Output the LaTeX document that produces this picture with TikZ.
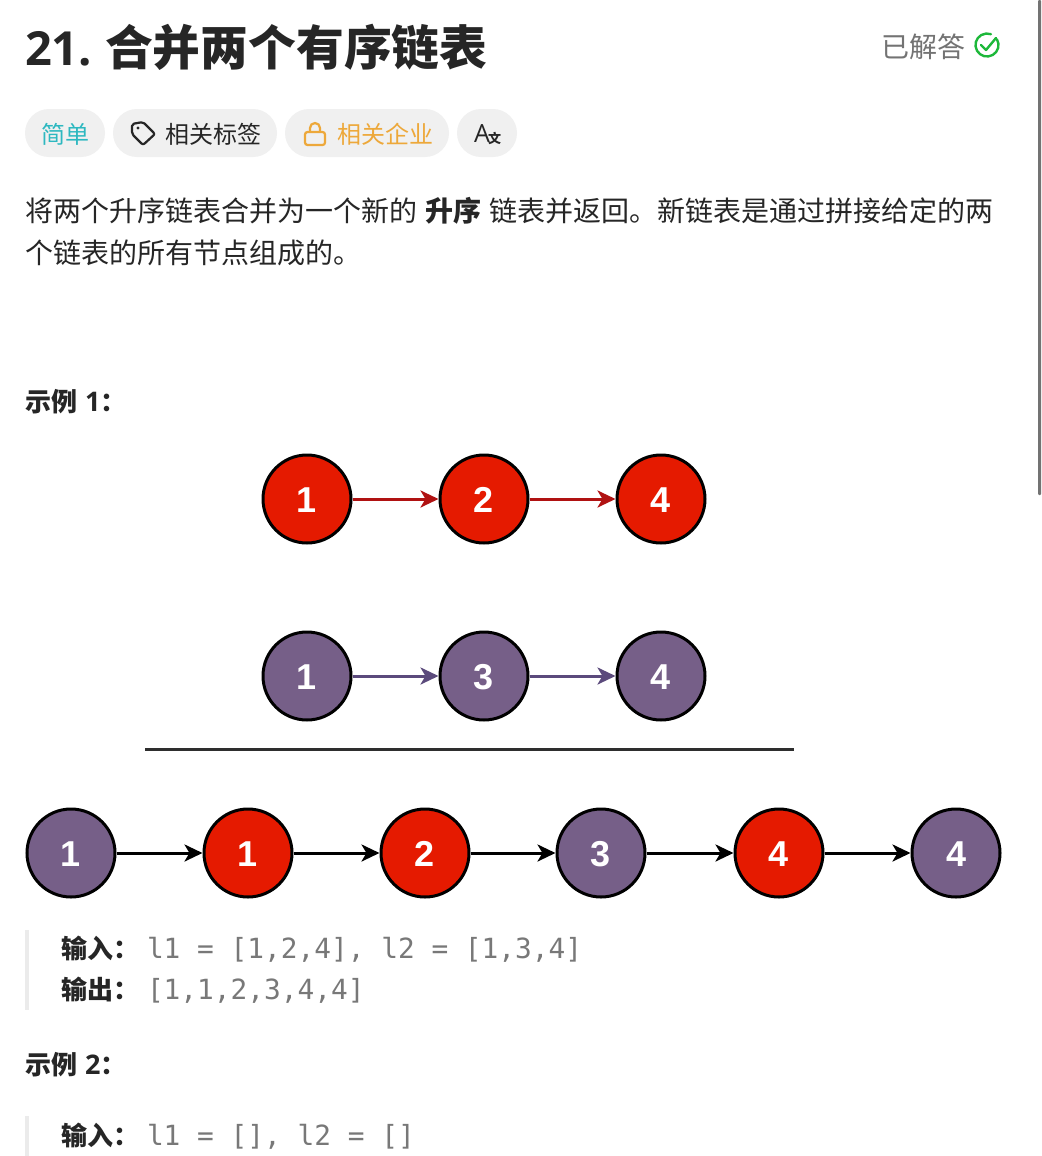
\documentclass[tikz,border=0pt]{standalone}
\usepackage{fontspec}
\setmainfont{Noto Sans CJK SC}
\newfontfamily\numfont{Liberation Sans}
\newfontfamily\codefont{DejaVu Sans Mono}
\newfontfamily\latfont{Open Sans}
\usetikzlibrary{arrows.meta}
\definecolor{ink}{HTML}{262626}
\definecolor{nodered}{HTML}{E51A00}
\definecolor{nodepurple}{HTML}{765F88}
\definecolor{linered}{HTML}{B01212}
\definecolor{linepurple}{HTML}{5B4A7C}
\definecolor{chipbg}{HTML}{F0F0F0}
\definecolor{teal}{HTML}{2DB8C0}
\definecolor{amber}{HTML}{EDA83A}
\definecolor{donegreen}{HTML}{1DB83A}
\definecolor{codegrey}{HTML}{787878}
\definecolor{quotebar}{HTML}{EBEBEB}
\newcommand{\fs}[1]{\fontsize{#1}{#1}\selectfont}
\tikzset{
  txt/.style={anchor=base west,inner sep=0pt,outer sep=0pt,text=ink,font=\fs{28}},
  codetxt/.style={anchor=base west,inner sep=0pt,outer sep=0pt,text=codegrey,font=\codefont\fs{27.8}},
  listnode/.style={circle,draw=black,line width=3pt,minimum size=88pt,inner sep=0pt,text=white,text height=27pt,text depth=0pt,font=\numfont\bfseries\fs{36}},
  rednode/.style={listnode,fill=nodered},
  purplenode/.style={listnode,fill=nodepurple},
  link/.style={line width=3pt,-{Stealth[length=18pt,width=17pt,inset=5pt]}},
  chip/.style={anchor=west,fill=chipbg,rounded corners=24pt,minimum height=48pt,inner sep=0pt,outer sep=0pt},
  bar/.style={fill=quotebar,draw=none}
}
\begin{document}
\begin{tikzpicture}[x=1pt,y=-1pt]
\path[use as bounding box,fill=white] (0,0) rectangle (1041,1156);
% scrollbar
\fill[black!55,rounded corners=1pt] (1038,0) rectangle (1041,495);
% heading
\node[txt,font=\latfont\bfseries\fs{47}] (num) at (25,66) {21.};
\node[txt,font=\bfseries\fs{47.8}] (title) at (105,66) {合并两个有序链表};
\node[txt,text=black!55,font=\fs{28}] (solved) at (881,57) {已解答};
\coordinate (chk) at (987,45);
\draw[donegreen,line width=2.4pt,line cap=round] (chk)++(-30:11.5) arc[start angle=-30,end angle=290,radius=11.5];
\draw[donegreen,line width=2.4pt,line cap=round,line join=round] (981,45) -- (986,50) -- (996,38);
% chips
\node[chip,minimum width=80pt] (easy) at (25,133) {};
\node[txt,text=teal,font=\fs{24}] (easyt) at (41,143) {简单};
\node[chip,minimum width=164pt] (tags) at (113,133) {};
\node[txt,font=\fs{24}] (tagst) at (165,143) {相关标签};
\draw[ink,line width=2.2pt,line join=round,rounded corners=2pt] (132,124) -- (143,122) -- (155,134) -- (143,145) -- (132,134) -- cycle;
\fill[ink] (138,128) circle[radius=1.6];
\node[chip,minimum width=164pt] (comp) at (285,133) {};
\node[txt,text=amber,font=\fs{24}] (compt) at (337,143) {相关企业};
\draw[amber,line width=2.2pt,rounded corners=2.5pt] (305,132) rectangle (325,145);
\draw[amber,line width=2.2pt] (310,132) -- (310,128) arc[start angle=180,end angle=360,radius=5] -- (320,132);
\node[chip,minimum width=60pt] (lang) at (457,133) {};
\node[txt,font=\latfont\fs{25}] (langa) at (474,142) {A};
\node[txt,font=\bfseries\fs{13}] (langb) at (488,143) {文};
% paragraph
\node[txt] (p1a) at (25,221) {将两个升序链表合并为一个新的};
\node[txt,font=\bfseries\fs{28}] (p1b) at (425,221) {升序};
\node[txt] (p1c) at (489,221) {链表并返回。新链表是通过拼接给定的两};
\node[txt] (p2) at (25,263) {个链表的所有节点组成的。};
% example 1
\node[txt,font=\bfseries\fs{26}] (ex1) at (25,411) {示例\hspace{8pt}{\latfont\bfseries\fs{27}1}：};
% list 1
\node[rednode] (a1) at (307,499) {1};
\node[rednode] (a2) at (484,499) {2};
\node[rednode] (a3) at (661,499) {4};
\draw[link,linered] (a1) -- (a2);
\draw[link,linered] (a2) -- (a3);
% list 2
\node[purplenode] (b1) at (307,676) {1};
\node[purplenode] (b2) at (484,676) {3};
\node[purplenode] (b3) at (661,676) {4};
\draw[link,linepurple] (b1) -- (b2);
\draw[link,linepurple] (b2) -- (b3);
% rule
\coordinate (ruleL) at (145,749);
\coordinate (ruleR) at (794,749);
\draw[line width=3pt,black!82] (ruleL) -- (ruleR);
% merged
\node[purplenode] (c1) at (71,853) {1};
\node[rednode] (c2) at (248,853) {1};
\node[rednode] (c3) at (425,853) {2};
\node[purplenode] (c4) at (601,853) {3};
\node[rednode] (c5) at (779,853) {4};
\node[purplenode] (c6) at (956,853) {4};
\draw[link,black] (c1) -- (c2);
\draw[link,black] (c2) -- (c3);
\draw[link,black] (c3) -- (c4);
\draw[link,black] (c4) -- (c5);
\draw[link,black] (c5) -- (c6);
% quote 1
\fill[bar] (25,930) rectangle (29,1010);
\node[txt,font=\bfseries\fs{26}] (in1) at (61,958) {输入：};
\node[codetxt] (in1v) at (147,958) {l1 = [1,2,4], l2 = [1,3,4]};
\node[txt,font=\bfseries\fs{26}] (out1) at (61,999) {输出：};
\node[codetxt] (out1v) at (147,999) {[1,1,2,3,4,4]};
% example 2
\node[txt,font=\bfseries\fs{26}] (ex2) at (25,1074) {示例\hspace{8pt}{\latfont\bfseries\fs{27}2}：};
\fill[bar] (25,1116) rectangle (29,1156);
\node[txt,font=\bfseries\fs{26}] (in2) at (61,1145) {输入：};
\node[codetxt] (in2v) at (147,1145) {l1 = [], l2 = []};
\end{tikzpicture}
\end{document}
